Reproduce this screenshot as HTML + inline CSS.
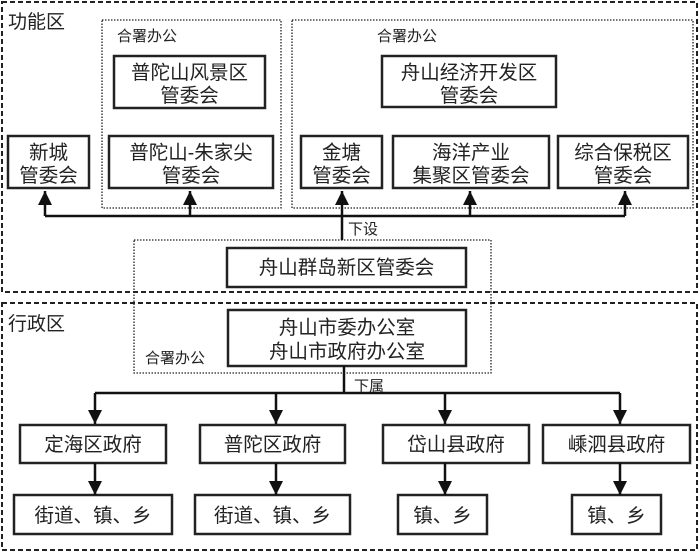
<!DOCTYPE html>
<html><head><meta charset="utf-8"><style>html,body{margin:0;padding:0;background:#fff}svg{display:block}</style></head><body>
<svg width="700" height="552" viewBox="0 0 700 552" xmlns="http://www.w3.org/2000/svg" font-family="'Liberation Sans','Noto Sans CJK SC',sans-serif" fill="#222">
<defs><marker id="a" viewBox="0 0 10 10" refX="10" refY="5" markerWidth="14" markerHeight="14" markerUnits="userSpaceOnUse" orient="auto"><path d="M0,0L10,5L0,10z" fill="#111"/></marker></defs>
<g fill="none" stroke="#222">
<rect x="2" y="2" width="695" height="290" stroke-width="2" stroke-dasharray="5,3"/>
<rect x="2" y="303" width="695" height="247" stroke-width="2" stroke-dasharray="5,3"/>
<g stroke-width="1.3" stroke-dasharray="1.5,1.5">
<rect x="102" y="20" width="179" height="188"/>
<rect x="292" y="20" width="401" height="188"/>
<rect x="134" y="240" width="357" height="133"/>
</g>
<g stroke-width="2.5">
<rect x="114" y="56" width="151" height="52"/>
<rect x="109" y="136" width="164" height="52"/>
<rect x="8" y="136" width="81" height="52"/>
<rect x="382" y="56" width="174" height="51"/>
<rect x="301" y="136" width="81" height="52"/>
<rect x="393" y="136" width="156" height="52"/>
<rect x="558" y="136" width="130" height="52"/>
<rect x="227" y="248" width="239" height="39"/>
<rect x="228" y="310" width="238" height="56"/>
<rect x="20" y="425" width="146" height="38"/>
<rect x="200" y="425" width="145" height="38"/>
<rect x="383" y="425" width="146" height="38"/>
<rect x="543" y="425" width="147" height="38"/>
<rect x="14" y="495" width="158" height="39"/>
<rect x="195" y="495" width="155" height="39"/>
<rect x="398" y="495" width="89" height="39"/>
<rect x="572" y="495" width="89" height="39"/>
</g>
<g stroke="#111" stroke-width="2.5">
<path d="M45,216H625M342,240V216M344,366V393M95,393H620"/>
<path d="M45,216V191" marker-end="url(#a)"/>
<path d="M190,216V191" marker-end="url(#a)"/>
<path d="M342,216V191" marker-end="url(#a)"/>
<path d="M470,216V191" marker-end="url(#a)"/>
<path d="M625,216V191" marker-end="url(#a)"/>
<path d="M95,393V424" marker-end="url(#a)"/>
<path d="M276,393V424" marker-end="url(#a)"/>
<path d="M445,393V424" marker-end="url(#a)"/>
<path d="M620,393V424" marker-end="url(#a)"/>
<path d="M95,463V495" marker-end="url(#a)"/>
<path d="M276,463V495" marker-end="url(#a)"/>
<path d="M445,463V495" marker-end="url(#a)"/>
<path d="M620,463V495" marker-end="url(#a)"/>
</g>
</g>
<g font-size="19">
<text x="8" y="28">功能区</text>
<text x="8" y="330">行政区</text>
</g>
<g font-size="15">
<text x="117" y="41">合署办公</text>
<text x="377" y="41">合署办公</text>
<text x="348" y="234">下设</text>
<text x="145" y="363">合署办公</text>
<text x="354" y="391">下属</text>
</g>
<g font-size="19.5" text-anchor="middle">
<text x="189.5" y="79">普陀山风景区</text><text x="189.5" y="102">管委会</text>
<text x="191" y="159">普陀山-朱家尖</text><text x="191" y="182">管委会</text>
<text x="48.5" y="159">新城</text><text x="48.5" y="182">管委会</text>
<text x="469" y="79">舟山经济开发区</text><text x="469" y="102">管委会</text>
<text x="341.5" y="159">金塘</text><text x="341.5" y="182">管委会</text>
<text x="471" y="159">海洋产业</text><text x="471" y="182">集聚区管委会</text>
<text x="623" y="159">综合保税区</text><text x="623" y="182">管委会</text>
<text x="346.5" y="274">舟山群岛新区管委会</text>
<text x="347" y="334">舟山市委办公室</text><text x="347" y="358">舟山市政府办公室</text>
<text x="93" y="451">定海区政府</text>
<text x="272.5" y="451">普陀区政府</text>
<text x="456" y="451">岱山县政府</text>
<text x="616.5" y="451">嵊泗县政府</text>
<text x="93" y="522">街道、镇、乡</text>
<text x="272.5" y="522">街道、镇、乡</text>
<text x="442.5" y="522">镇、乡</text>
<text x="616.5" y="522">镇、乡</text>
</g>
</svg>
</body></html>
